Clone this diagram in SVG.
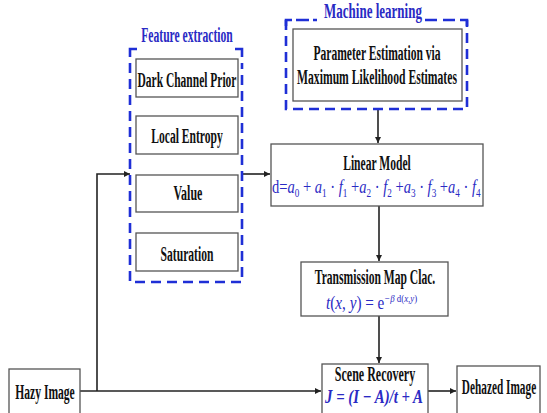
<svg xmlns="http://www.w3.org/2000/svg" width="547" height="413" viewBox="0 0 547 413">
<defs>
<marker id="ah" viewBox="0 0 10 10" refX="10" refY="5" markerWidth="6" markerHeight="6" orient="auto" markerUnits="userSpaceOnUse"><path d="M0,0 L10,5 L0,10 z" fill="#222"/></marker>
<style>
.box{fill:#fff;stroke:#555;stroke-width:1.3}
.grp{fill:none;stroke:#1f2fd6;stroke-width:2.6;stroke-dasharray:10,6}
.cor{fill:none;stroke:#1f2fd6;stroke-width:2.6}
.t{font-family:"Liberation Serif","Times New Roman",serif;font-weight:bold;font-size:20px;fill:#111;text-anchor:middle}
.b{font-family:"Liberation Serif","Times New Roman",serif;font-weight:bold;font-size:20px;fill:#2a2ac4;text-anchor:middle}
.m{font-family:"Liberation Serif","Times New Roman",serif;font-size:19px;fill:#2a2ac4}
.s{font-size:12px}
.i{font-style:italic}
.c{fill:none;stroke:#222;stroke-width:1.6}
</style>
</defs>
<rect width="547" height="413" fill="#fff"/>

<g id="connectors">
<line class="c" x1="80" y1="391" x2="321" y2="391" marker-end="url(#ah)"/>
<polyline class="c" points="97,391 97,174 130,174" marker-end="url(#ah)"/>
<line class="c" x1="243" y1="174" x2="270" y2="174" marker-end="url(#ah)"/>
<line class="c" x1="378" y1="110" x2="378" y2="143" marker-end="url(#ah)"/>
<line class="c" x1="379" y1="206" x2="379" y2="261" marker-end="url(#ah)"/>
<line class="c" x1="379" y1="316" x2="379" y2="363" marker-end="url(#ah)"/>
<line class="c" x1="428" y1="391" x2="456" y2="391" marker-end="url(#ah)"/>
</g>

<g id="feature-extraction">
<path class="cor" d="M130,57 L130,49 L137,49 M235,49 L242,49 L242,57"/>
<path class="grp" d="M130,63 L130,282 L242,282 L242,63"/>
<text class="b" transform="translate(187,42) scale(0.58,1)">Feature extraction</text>
</g>
<g id="dark-channel-prior">
<rect class="box" x="136" y="59" width="102" height="38"/>
<text class="t" transform="translate(187,87) scale(0.575,1)">Dark Channel Prior</text>
</g>
<g id="local-entropy">
<rect class="box" x="136" y="116" width="102" height="38"/>
<text class="t" transform="translate(187,143) scale(0.58,1)">Local Entropy</text>
</g>
<g id="value">
<rect class="box" x="136" y="175" width="102" height="37"/>
<text class="t" transform="translate(188,200) scale(0.6,1)">Value</text>
</g>
<g id="saturation">
<rect class="box" x="136" y="233" width="102" height="38"/>
<text class="t" transform="translate(187,261) scale(0.58,1)">Saturation</text>
</g>

<g id="machine-learning">
<path class="grp" d="M286,20 L286,109 L467,109 L467,20"/>
<path class="cor" d="M286,26 L286,20 L292,20 M296,20 L309,20 M313,20 L317,20 M425,20 L437,20 M443,20 L455,20 M460,20 L467,20 L467,26"/>
<text class="b" transform="translate(373,18) scale(0.65,1)" font-size="18">Machine learning</text>
</g>
<g id="parameter-estimation">
<rect class="box" x="293" y="29" width="169" height="72"/>
<text class="t" transform="translate(377,60) scale(0.58,1)">Parameter Estimation via</text>
<text class="t" transform="translate(377,84) scale(0.583,1)">Maximum Likelihood Estimates</text>
</g>

<g id="linear-model">
<rect class="box" x="271" y="144" width="212" height="62"/>
<text class="t" transform="translate(377,170) scale(0.58,1)">Linear Model</text>
<text class="m" transform="translate(272,193) scale(0.765,1)">d=<tspan class="i">a</tspan><tspan class="s" dy="4">0</tspan><tspan dy="-4"> + </tspan><tspan class="i">a</tspan><tspan class="s" dy="4">1</tspan><tspan dy="-4"> · </tspan><tspan class="i">f</tspan><tspan class="s" dy="4">1</tspan><tspan dy="-4"> +</tspan><tspan class="i">a</tspan><tspan class="s" dy="4">2</tspan><tspan dy="-4"> · </tspan><tspan class="i">f</tspan><tspan class="s" dy="4">2</tspan><tspan dy="-4"> +</tspan><tspan class="i">a</tspan><tspan class="s" dy="4">3</tspan><tspan dy="-4"> · </tspan><tspan class="i">f</tspan><tspan class="s" dy="4">3</tspan><tspan dy="-4"> +</tspan><tspan class="i">a</tspan><tspan class="s" dy="4">4</tspan><tspan dy="-4"> · </tspan><tspan class="i">f</tspan><tspan class="s" dy="4">4</tspan></text>
</g>

<g id="transmission-map">
<rect class="box" x="301" y="262" width="147" height="54"/>
<text class="t" transform="translate(375,284) scale(0.58,1)">Transmission Map Clac.</text>
<text class="m" transform="translate(326,309) scale(0.8,1)" font-size="20"><tspan class="i">t</tspan>(<tspan class="i">x</tspan>, <tspan class="i">y</tspan>) = e<tspan font-size="11" dy="-7"><tspan class="i">−β</tspan> d(<tspan class="i">x</tspan>,<tspan class="i">y</tspan>)</tspan></text>
</g>

<g id="scene-recovery">
<rect class="box" x="322" y="364" width="106" height="55"/>
<text class="t" transform="translate(375,381) scale(0.6,1)">Scene Recovery</text>
<text class="m" transform="translate(374,403) scale(0.78,1)" font-size="18" font-style="italic" font-weight="bold" text-anchor="middle">J = (I − A)/t + A</text>
</g>

<g id="dehazed-image">
<rect class="box" x="457" y="366" width="83" height="55"/>
<text class="t" transform="translate(499,394) scale(0.565,1)">Dehazed Image</text>
</g>

<g id="hazy-image">
<rect class="box" x="9" y="369" width="71" height="55"/>
<text class="t" transform="translate(45,399) scale(0.58,1)">Hazy Image</text>
</g>
</svg>
